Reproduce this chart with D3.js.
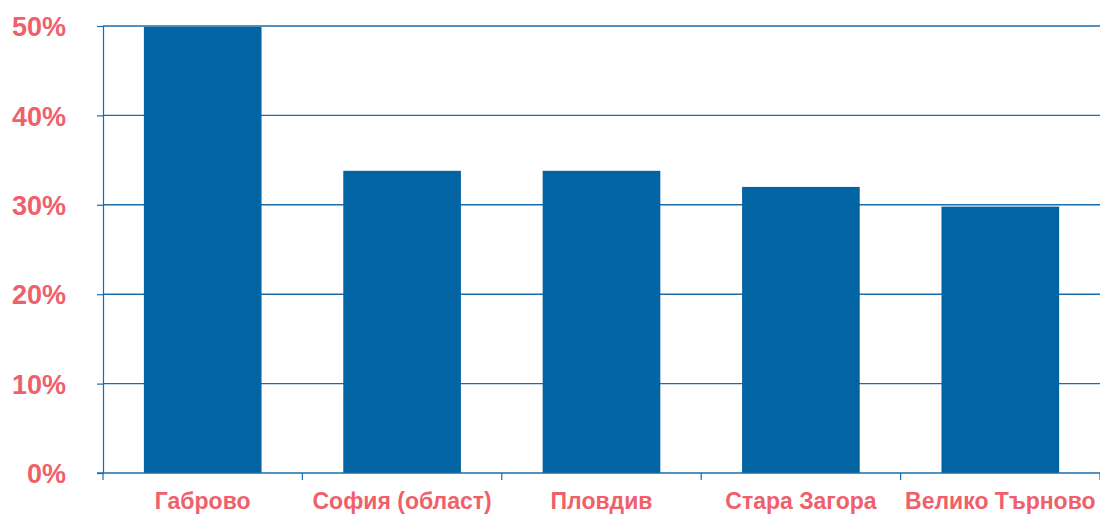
<!DOCTYPE html>
<html>
<head>
<meta charset="utf-8">
<script src="https://cdn.jsdelivr.net/npm/d3@7"></script>
<style>
  html, body { margin: 0; padding: 0; background: #fff; }
  svg text { font-family: "Liberation Sans", Arial, Helvetica, sans-serif; font-weight: bold; fill: #f0606b; }
</style>
</head>
<body>
<svg id="chart"></svg>
<script>
// chart data
const regions = ['Габрово', 'София (област)', 'Пловдив', 'Стара Загора', 'Велико Търново'];
const shares = [49.9, 33.8, 33.8, 32.0, 29.8];
const yTicks = [0, 10, 20, 30, 40, 50];

const width = 1100, height = 515;
const margin = { top: 26, right: 0, bottom: 42, left: 103 };
const blue = '#0264a3';

const svg = d3.select('#chart')
    .attr('width', width)
    .attr('height', height);

const x = d3.scaleBand()
    .domain(regions)
    .range([margin.left, width - margin.right])
    .paddingInner(0.41)
    .paddingOuter(0.205);

const y = d3.scaleLinear()
    .domain([0, 50])
    .range([height - margin.bottom, margin.top]);

// grid lines
svg.append('g')
    .selectAll('line')
    .data(yTicks.filter(d => d > 0))
    .enter()
    .append('line')
    .attr('x1', margin.left)
    .attr('x2', width)
    .attr('y1', d => y(d))
    .attr('y2', d => y(d))
    .attr('stroke', '#1a6cab')
    .attr('stroke-width', 1.4);

// bars
svg.append('g')
    .selectAll('rect')
    .data(regions)
    .enter()
    .append('rect')
    .attr('x', d => x(d))
    .attr('width', x.bandwidth())
    .attr('y', (d, i) => y(shares[i]))
    .attr('height', (d, i) => y(0) - y(shares[i]))
    .attr('fill', blue);

// y axis
const yAxis = svg.append('g')
    .attr('transform', `translate(${margin.left},0)`)
    .call(d3.axisLeft(y).tickValues(yTicks).tickSize(6).tickPadding(31).tickFormat(d => d + '%'));
yAxis.select('.domain').attr('stroke', '#1a6cab').attr('stroke-width', 1.2);
yAxis.selectAll('.tick line').attr('stroke', '#1a6cab').attr('stroke-width', 1.2);
yAxis.selectAll('.tick text')
    .attr('font-size', 27)
    .attr('dy', '0.36em');

// x axis, ticks on band boundaries
const bounds = regions.map(d => x(d) - x.step() * x.paddingInner() / 2).concat([width - margin.right]);
const xAxis = svg.append('g')
    .attr('transform', `translate(0,${y(0)})`);
xAxis.append('line')
    .attr('x1', margin.left - 6)
    .attr('x2', width)
    .attr('stroke', '#1a6cab')
    .attr('stroke-width', 1.4);
xAxis.selectAll('.xtick')
    .data(bounds)
    .enter()
    .append('line')
    .attr('class', 'xtick')
    .attr('x1', d => d)
    .attr('x2', d => d)
    .attr('y1', 0)
    .attr('y2', 7)
    .attr('stroke', '#1a6cab')
    .attr('stroke-width', 1.2);
xAxis.selectAll('.xlabel')
    .data(regions)
    .enter()
    .append('text')
    .attr('class', 'xlabel')
    .attr('x', d => x(d) + x.bandwidth() / 2)
    .attr('y', 36)
    .attr('text-anchor', 'middle')
    .attr('font-size', 23)
    .text(d => d);
</script>
</body>
</html>
